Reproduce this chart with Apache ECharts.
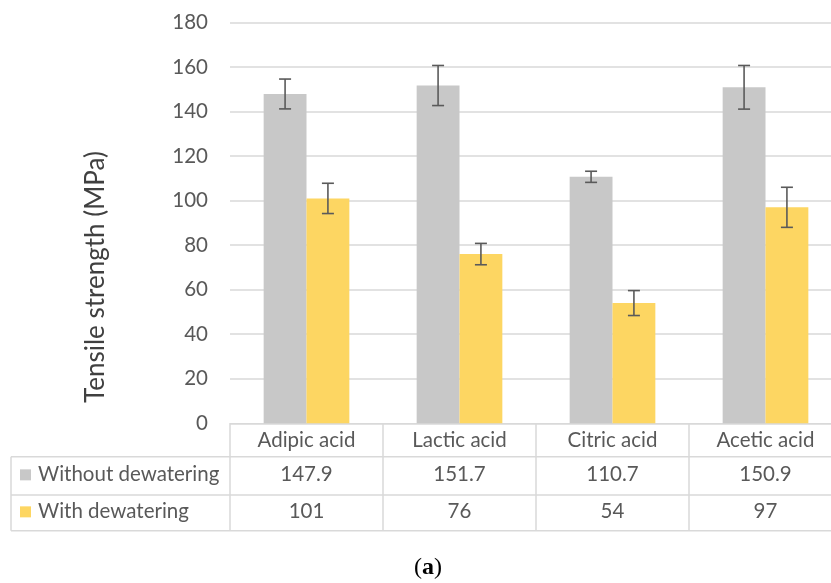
<!DOCTYPE html>
<html>
<head>
<meta charset="utf-8">
<script src="https://cdn.jsdelivr.net/npm/echarts@6/dist/echarts.min.js"></script>
<style>
  html, body { margin: 0; padding: 0; background: #ffffff; }
  #chart { width: 831px; height: 583px; }
</style>
</head>
<body>
<div id="chart"></div>
<script>
// Tensile strength per acid, with and without dewatering
const categories = ['Adipic acid', 'Lactic acid', 'Citric acid', 'Acetic acid'];
const seriesNames = ['Without dewatering', 'With dewatering'];
const withoutDewatering = [147.9, 151.7, 110.7, 150.9];
const withDewatering = [101, 76, 54, 97];
const withoutDewateringErr = [6.7, 9.0, 2.5, 9.8];
const withDewateringErr = [6.8, 4.8, 5.6, 9.0];
const yMin = 0, yMax = 180, yStep = 20;
const yTitle = 'Tensile strength (MPa)';

const COLORS = ['#c8c8c8', '#fdd662'];
const FONT = 'Lato';
const TEXT = '#595959';
const LINE = '#d9d9d9';
const FS = 20.5;

const chart = echarts.init(document.getElementById('chart'), null, { renderer: 'canvas' });

// error bar rendered around a bar; offset is the bar centre as a fraction of the category band
function errorBars(values, errors, offset) {
  return {
    type: 'custom',
    z: 10,
    silent: true,
    data: values.map((v, i) => [i, v, errors[i]]),
    encode: { x: 0, y: 1 },
    renderItem: function (params, api) {
      const idx = api.value(0);
      const v = api.value(1);
      const e = api.value(2);
      const band = api.size([1, 0])[0];
      const x = api.coord([idx, v])[0] + offset * band;
      const top = api.coord([idx, v + e])[1];
      const bot = api.coord([idx, v - e])[1];
      const cap = 6;
      const style = { stroke: '#5a5a5a', lineWidth: 1.6 };
      return {
        type: 'group',
        children: [
          { type: 'line', shape: { x1: x, y1: top, x2: x, y2: bot }, style },
          { type: 'line', shape: { x1: x - cap, y1: top, x2: x + cap, y2: top }, style },
          { type: 'line', shape: { x1: x - cap, y1: bot, x2: x + cap, y2: bot }, style }
        ]
      };
    }
  };
}

chart.setOption({
  animation: false,
  backgroundColor: '#ffffff',
  grid: { left: 230, top: 22.5, width: 612, height: 400.8, outerBoundsMode: 'none', containLabel: false },
  xAxis: {
    type: 'category',
    data: categories,
    axisLine: { show: true, lineStyle: { color: LINE, width: 1 } },
    axisTick: { show: false },
    axisLabel: { color: TEXT, fontFamily: FONT, fontSize: FS, margin: 7 }
  },
  yAxis: {
    type: 'value',
    min: yMin, max: yMax, interval: yStep,
    axisLine: { show: false },
    axisTick: { show: false },
    axisLabel: { color: TEXT, fontFamily: FONT, fontSize: FS, margin: 22 },
    splitLine: { show: true, lineStyle: { color: LINE, width: 1.5 } }
  },
  series: [
    {
      name: seriesNames[0], type: 'bar', data: withoutDewatering,
      barWidth: '28%', barGap: '0%',
      itemStyle: { color: COLORS[0] }
    },
    {
      name: seriesNames[1], type: 'bar', data: withDewatering,
      barWidth: '28%', barGap: '0%',
      itemStyle: { color: COLORS[1] }
    },
    errorBars(withoutDewatering, withoutDewateringErr, -0.14),
    errorBars(withDewatering, withDewateringErr, 0.14)
  ]
});

// data table under the category axis, plus axis title and caption
function buildTable() {
  const c0 = chart.convertToPixel({ xAxisIndex: 0 }, 0);
  const c1 = chart.convertToPixel({ xAxisIndex: 0 }, 1);
  const band = c1 - c0;
  const axisY = chart.convertToPixel({ yAxisIndex: 0 }, 0);
  const rowLines = [456.7, 495, 530.7];
  const tableLeft = 11;
  const right = 831;
  const leftEdge = c0 - band / 2;
  const els = [];
  const line = (x1, y1, x2, y2) => els.push({
    type: 'line', silent: true,
    shape: { x1, y1, x2, y2 },
    style: { stroke: LINE, lineWidth: 1.5 }
  });
  rowLines.forEach(y => line(tableLeft, y, right, y));
  line(tableLeft, rowLines[0], tableLeft, rowLines[2]);
  for (let i = 0; i <= categories.length; i++) {
    const x = leftEdge + i * band;
    line(x, axisY, x, rowLines[2]);
  }
  const rows = [withoutDewatering, withDewatering];
  rows.forEach((vals, r) => {
    const cy = (rowLines[r] + rowLines[r + 1]) / 2 - 1;
    els.push({
      type: 'rect', silent: true,
      shape: { x: 20, y: cy - 5.5, width: 11, height: 11 },
      style: { fill: COLORS[r] }
    });
    els.push({
      type: 'text', silent: true, x: 38, y: cy,
      style: { text: seriesNames[r], fill: TEXT, font: FS + 'px ' + FONT, textAlign: 'left', textVerticalAlign: 'middle' }
    });
    vals.forEach((v, i) => {
      els.push({
        type: 'text', silent: true,
        x: chart.convertToPixel({ xAxisIndex: 0 }, i), y: cy,
        style: { text: String(v), fill: TEXT, font: FS + 'px ' + FONT, textAlign: 'center', textVerticalAlign: 'middle' }
      });
    });
  });
  // vertical value-axis title
  els.push({
    type: 'text', silent: true, x: 96, y: 277, rotation: Math.PI / 2,
    style: { text: yTitle, fill: '#404040', font: '26px ' + FONT, textAlign: 'center', textVerticalAlign: 'middle' }
  });
  // panel caption
  els.push({
    type: 'text', silent: true, x: 428, y: 568,
    style: {
      text: '{p|(}{b|a}{p|)}',
      textAlign: 'center', textVerticalAlign: 'middle',
      rich: {
        p: { font: '24px "Liberation Serif"', fill: '#000' },
        b: { font: 'bold 24px "Liberation Serif"', fill: '#000' }
      }
    }
  });
  chart.setOption({ graphic: { elements: els } });
}
buildTable();
</script>
</body>
</html>
